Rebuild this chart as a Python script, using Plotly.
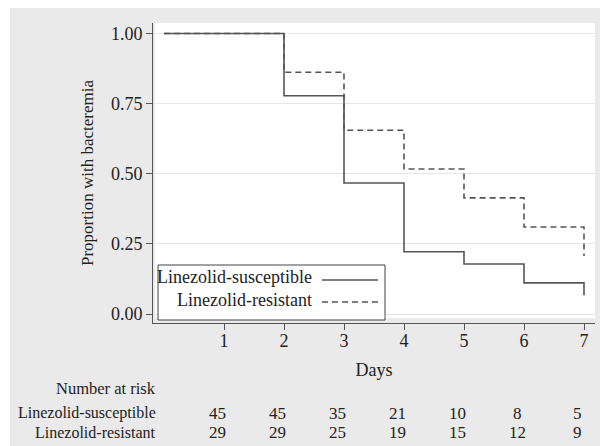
import plotly.graph_objects as go

# ---- data ----
days = [0, 2, 3, 4, 5, 6, 7]
susceptible = [1.0, 0.778, 0.467, 0.222, 0.178, 0.111, 0.067]
resistant = [1.0, 0.862, 0.655, 0.517, 0.414, 0.310, 0.207]
series_names = ["Linezolid-susceptible", "Linezolid-resistant"]

risk_days = [1, 2, 3, 4, 5, 6, 7]
risk_susceptible = [45, 45, 35, 21, 10, 8, 5]
risk_resistant = [29, 29, 25, 19, 15, 12, 9]

x_ticks = [1, 2, 3, 4, 5, 6, 7]
y_ticks = [0.0, 0.25, 0.5, 0.75, 1.0]
y_ticklabels = ["0.00", "0.25", "0.50", "0.75", "1.00"]

# ---- layout geometry (page pixels; the page body adds an 8px offset) ----
OFF = 8
PW, PH = 608, 446
W, H = PW - OFF, PH - OFF
L, R, T, B = 153, 595, 23, 323   # axes box in page pixels
def px(x):
    return (x - L) / (R - L)
def py(y):
    return (B - y) / (B - T)

FONT = "Liberation Serif"
LINE = "#555555"
GRAY = "#eaeaea"

fig = go.Figure()
fig.add_trace(go.Scatter(x=days, y=susceptible, mode="lines", line_shape="hv",
                         name=series_names[0], showlegend=False,
                         line=dict(color=LINE, width=1.6)))
fig.add_trace(go.Scatter(x=days, y=resistant, mode="lines", line_shape="hv",
                         name=series_names[1], showlegend=False,
                         line=dict(color=LINE, width=1.6, dash="6px,4px")))

shapes = [
    # thin white strip at left (reference panel starts ~2px further right)
    dict(type="rect", xref="paper", yref="paper", x0=px(OFF), x1=px(10), y0=py(OFF), y1=py(PH),
         fillcolor="white", line_width=0, layer="below"),
    # white plot region
    dict(type="rect", xref="paper", yref="paper", x0=px(155), x1=px(595), y0=py(318), y1=py(23),
         fillcolor="white", line_width=0, layer="below"),
    # legend box
    dict(type="rect", xref="paper", yref="paper", x0=px(158), x1=px(385), y0=py(320), y1=py(265),
         fillcolor="white", line=dict(color="#444444", width=1), layer="above"),
    dict(type="line", xref="paper", yref="paper", x0=px(322), x1=px(378), y0=py(280), y1=py(280),
         line=dict(color=LINE, width=1.6), layer="above"),
    dict(type="line", xref="paper", yref="paper", x0=px(322), x1=px(378), y0=py(302), y1=py(302),
         line=dict(color=LINE, width=1.6, dash="6px,4px"), layer="above"),
]

annotations = [
    dict(text=series_names[0], xref="paper", yref="paper", x=px(314), y=py(277),
         xanchor="right", yanchor="middle", showarrow=False, font=dict(size=18)),
    dict(text=series_names[1], xref="paper", yref="paper", x=px(314), y=py(300),
         xanchor="right", yanchor="middle", showarrow=False, font=dict(size=18)),
    dict(text="Number at risk", xref="paper", yref="paper", x=px(158), y=py(388),
         xanchor="right", yanchor="middle", showarrow=False, font=dict(size=16.5)),
    dict(text=series_names[0], xref="paper", yref="paper", x=px(158), y=py(413),
         xanchor="right", yanchor="middle", showarrow=False, font=dict(size=16)),
    dict(text=series_names[1], xref="paper", yref="paper", x=px(158), y=py(432),
         xanchor="right", yanchor="middle", showarrow=False, font=dict(size=16)),
]
for d, a, b in zip(risk_days, risk_susceptible, risk_resistant):
    annotations.append(dict(text=str(a), xref="x", yref="paper", x=d, xshift=-7, y=py(413),
                            xanchor="center", yanchor="middle", showarrow=False, font=dict(size=17)))
    annotations.append(dict(text=str(b), xref="x", yref="paper", x=d, xshift=-7, y=py(432),
                            xanchor="center", yanchor="middle", showarrow=False, font=dict(size=17)))

fig.update_layout(
    width=W, height=H,
    margin=dict(l=L - OFF, r=PW - R, t=T - OFF, b=PH - B, pad=0),
    paper_bgcolor=GRAY, plot_bgcolor=GRAY,
    font=dict(family=FONT, color="#222222", size=17),
    showlegend=False,
    shapes=shapes, annotations=annotations,
    xaxis=dict(range=[-11 / 60, 431 / 60], tickvals=x_ticks, ticktext=[str(v) for v in x_ticks],
               showgrid=False, zeroline=False, showline=True, linecolor=LINE, linewidth=1,
               ticks="outside", ticklen=6, tickcolor=LINE, tickwidth=1,
               tickfont=dict(size=18), ticklabelstandoff=-5,
               title=dict(text="Days", font=dict(size=18), standoff=13)),
    yaxis=dict(range=[-9 / 280.5, 1 + 10.5 / 280.5], tickvals=y_ticks, ticktext=y_ticklabels,
               showgrid=True, gridcolor="#e6e6e6", gridwidth=1, zeroline=False,
               showline=True, linecolor=LINE, linewidth=1,
               ticks="outside", ticklen=6, tickcolor=LINE, tickwidth=1,
               tickfont=dict(size=18),
               title=dict(text="Proportion with bacteremia", font=dict(size=17), standoff=12)),
)

fig.write_html("out.html")
